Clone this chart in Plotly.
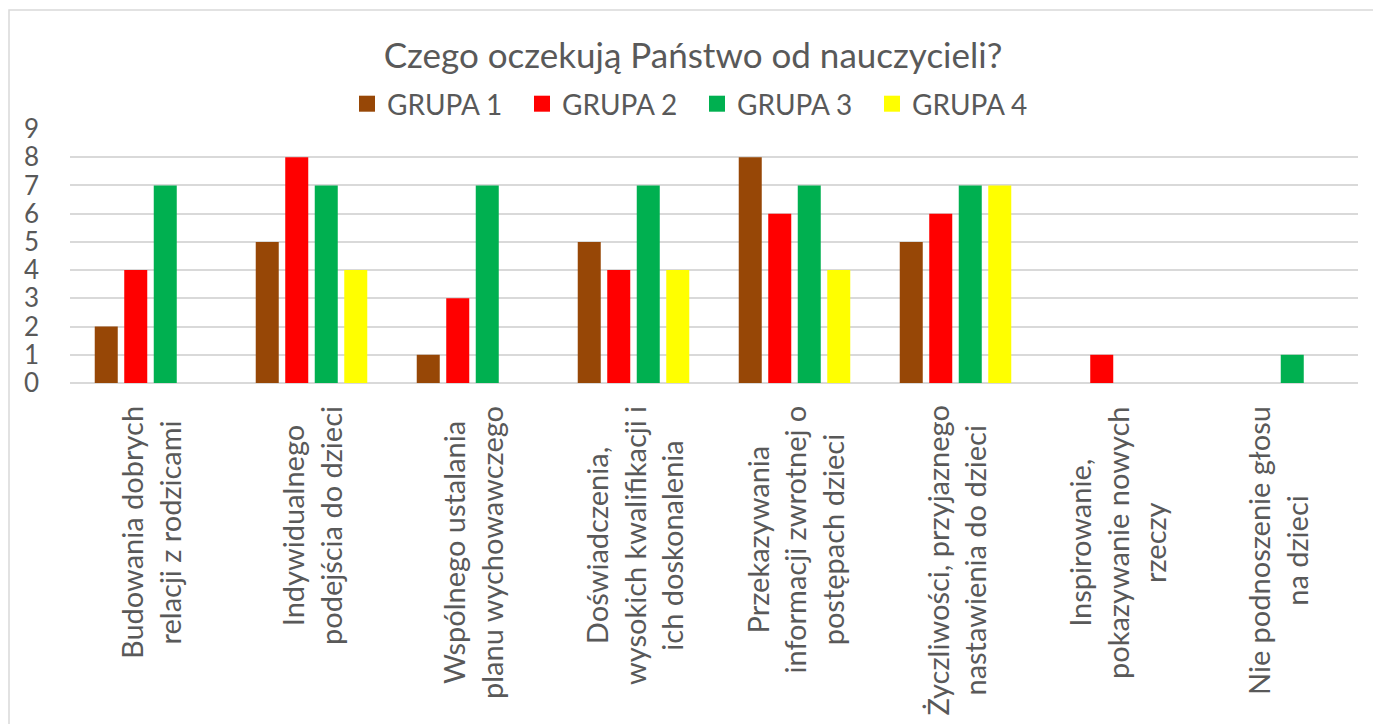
import plotly.graph_objects as go

categories = [
    "Budowania dobrych<br>relacji z rodzicami",
    "Indywidualnego<br>podejścia do dzieci",
    "Wspólnego ustalania<br>planu wychowawczego",
    "Doświadczenia,<br>wysokich kwalifikacji i<br>ich doskonalenia",
    "Przekazywania<br>informacji zwrotnej o<br>postępach dzieci",
    "Życzliwości, przyjaznego<br>nastawienia do dzieci",
    "Inspirowanie,<br>pokazywanie nowych<br>rzeczy",
    "Nie podnoszenie głosu<br>na dzieci",
]
series_names = ["GRUPA 1", "GRUPA 2", "GRUPA 3", "GRUPA 4"]
grupa1 = [2, 5, 1, 5, 8, 5, None, None]
grupa2 = [4, 8, 3, 4, 6, 6, 1, None]
grupa3 = [7, 7, 7, 7, 7, 7, None, 1]
grupa4 = [None, 4, None, 4, 4, 7, None, None]
y_ticks = [0, 1, 2, 3, 4, 5, 6, 7, 8, 9]

colors = ["#974706", "#FF0000", "#00B050", "#FFFF00"]
FONT = "Lato"
GREY = "#595959"

# page body has an 8px margin: positions below are page pixels minus that offset
OFF = 8
W, H = 1381, 724
L, R, T, B = 70 - OFF, 1358 - OFF, 129 - OFF, 383 - OFF
pw, ph = R - L, B - T

def px_x(p):
    return (p - OFF - L) / pw

def px_y(p):
    return (B - (p - OFF)) / ph

fig = go.Figure()
xs = list(range(len(categories)))
for name, vals, col in zip(series_names, [grupa1, grupa2, grupa3, grupa4], colors):
    fig.add_trace(go.Bar(x=xs, y=vals, name=name, showlegend=False,
                         marker=dict(color=col, line=dict(width=0))))
    # legend entry with a larger square swatch
    fig.add_trace(go.Scatter(x=[None], y=[None], name=name, mode="markers",
                             marker=dict(symbol="square", size=18, color=col),
                             showlegend=True, hoverinfo="skip"))

for i, c in enumerate(categories):
    fig.add_annotation(x=i, xref="x", y=px_y(404), yref="paper",
                       text=c, textangle=-90, showarrow=False,
                       xanchor="center", yanchor="top", align="center",
                       font=dict(family=FONT, size=29, color=GREY))

fig.add_shape(type="rect", xref="paper", yref="paper",
              x0=px_x(9), x1=px_x(1420), y0=px_y(780), y1=px_y(10),
              line=dict(color="#D9D9D9", width=1.5), fillcolor="rgba(0,0,0,0)",
              layer="below")

fig.update_layout(
    width=W, height=H,
    margin=dict(l=L, r=W - R, t=T, b=H - B, pad=0, autoexpand=False),
    paper_bgcolor="white", plot_bgcolor="white",
    barmode="group", bargap=0.267, bargroupgap=0.22,
    title=dict(text="Czego oczekują Państwo od nauczycieli?",
               x=(693 - OFF) / W, xref="container", xanchor="center",
               y=1 - (56 - OFF) / H, yref="container", yanchor="middle",
               font=dict(family=FONT, size=35, color=GREY)),
    legend=dict(orientation="h", x=(697 - OFF) / W, xref="container", xanchor="center",
                y=1 - (104 - OFF) / H, yref="container", yanchor="middle",
                font=dict(family=FONT, size=28, color=GREY),
                entrywidth=130, entrywidthmode="pixels",
                itemclick=False, bgcolor="rgba(0,0,0,0)"),
    xaxis=dict(range=[-0.5, len(categories) - 0.5], showticklabels=False,
               showgrid=False, zeroline=False, showline=False, fixedrange=True),
    yaxis=dict(range=[0, 9], tickvals=y_ticks, showgrid=True, gridcolor="#D9D9D9",
               gridwidth=1.5, zeroline=True, zerolinecolor="#D9D9D9", zerolinewidth=1.5,
               showline=False, ticklabelstandoff=30,
               tickfont=dict(family=FONT, size=26, color=GREY), fixedrange=True),
    showlegend=True,
)

fig.write_html("out.html")
